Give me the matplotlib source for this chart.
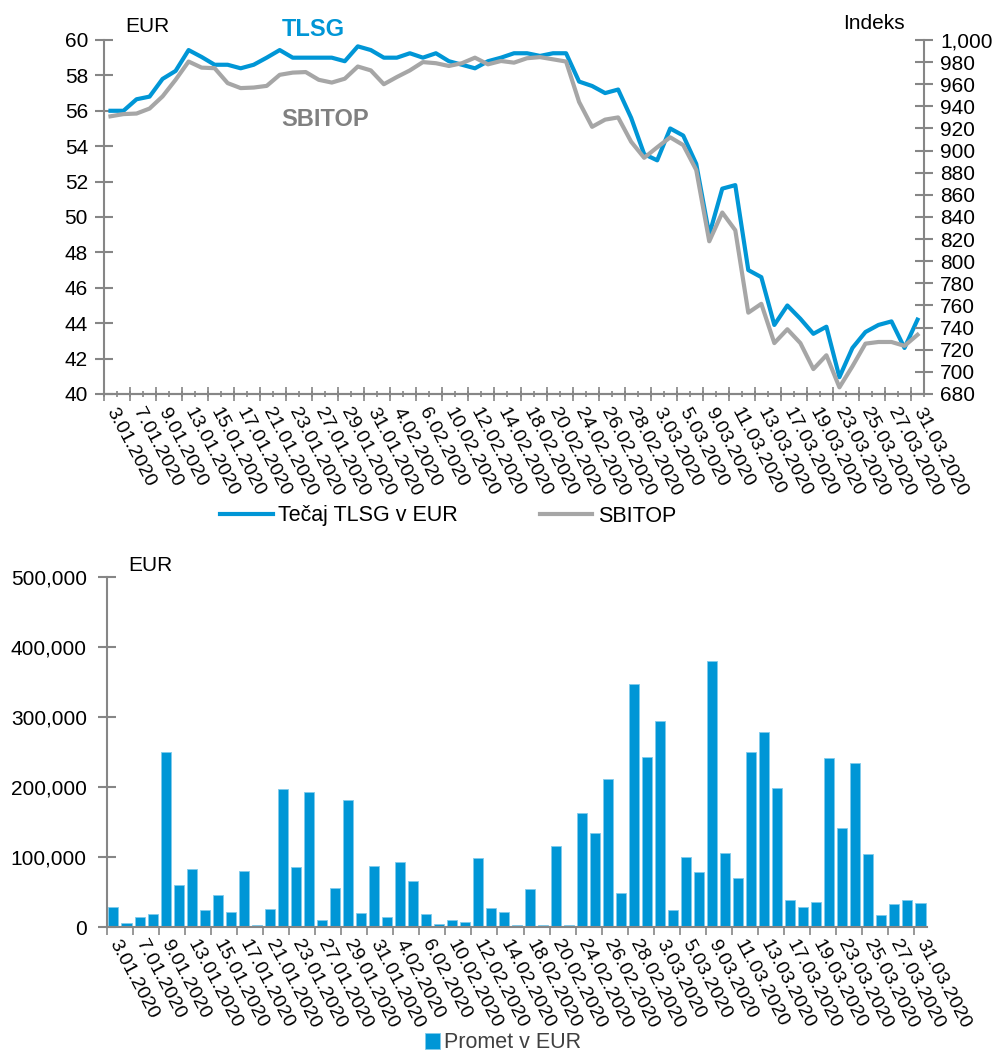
import numpy as np
import matplotlib
matplotlib.use("Agg")
import matplotlib.pyplot as plt
from matplotlib.ticker import FuncFormatter

plt.rcParams['font.family'] = ['Liberation Sans', 'DejaVu Sans']

# trading days, Jan-Mar 2020
dates = ["3.01.2020", "6.01.2020", "7.01.2020", "8.01.2020", "9.01.2020", "10.01.2020",
         "13.01.2020", "14.01.2020", "15.01.2020", "16.01.2020", "17.01.2020",
         "20.01.2020", "21.01.2020", "22.01.2020", "23.01.2020", "24.01.2020",
         "27.01.2020", "28.01.2020", "29.01.2020", "30.01.2020", "31.01.2020",
         "3.02.2020", "4.02.2020", "5.02.2020", "6.02.2020", "7.02.2020",
         "10.02.2020", "11.02.2020", "12.02.2020", "13.02.2020", "14.02.2020",
         "17.02.2020", "18.02.2020", "19.02.2020", "20.02.2020", "21.02.2020",
         "24.02.2020", "25.02.2020", "26.02.2020", "27.02.2020", "28.02.2020",
         "2.03.2020", "3.03.2020", "4.03.2020", "5.03.2020", "6.03.2020",
         "9.03.2020", "10.03.2020", "11.03.2020", "12.03.2020", "13.03.2020",
         "16.03.2020", "17.03.2020", "18.03.2020", "19.03.2020", "20.03.2020",
         "23.03.2020", "24.03.2020", "25.03.2020", "26.03.2020", "27.03.2020",
         "30.03.2020", "31.03.2020"]

tlsg = [56.0, 56.0, 56.65, 56.8, 57.8, 58.25, 59.43, 59.04, 58.6, 58.6,
        58.4, 58.6, 59.0, 59.43, 59.0, 59.0, 59.0, 59.0, 58.8, 59.64,
        59.43, 59.0, 59.0, 59.25, 59.0, 59.25, 58.8, 58.6, 58.4, 58.8,
        59.0, 59.25, 59.25, 59.1, 59.25, 59.25, 57.65, 57.4, 57.0, 57.2,
        55.6, 53.55, 53.2, 55.0, 54.6, 53.0, 49.0, 51.6, 51.8, 47.0,
        46.6, 43.9, 45.0, 44.25, 43.4, 43.8, 40.95, 42.6, 43.5, 43.9,
        44.1, 42.6, 44.2]

sbitop = [931, 933, 933.5, 938, 949, 964, 980.5, 975, 974.5, 961,
          956.5, 957, 958.5, 968.5, 970.5, 971, 964, 961.5, 965, 976,
          972.5, 960, 966.5, 972.5, 980, 979, 976.5, 979, 984, 978,
          981, 979.5, 983.5, 984.5, 982.5, 980.5, 944, 921.5, 928, 930,
          908, 893.5, 903, 912, 905, 882.5, 818, 844, 828, 753.5,
          761.5, 726, 738.5, 726, 702.5, 715, 686, 705, 725.5, 727,
          727, 723.5, 733.5]

promet = [29000, 6200, 13900, 18100, 250000, 60500, 83200, 24300, 45200, 21400,
          80000, 2400, 25200, 197600, 85200, 192800, 9500, 56200, 181000, 20500,
          87600, 14800, 92400, 66200, 18100, 4800, 10000, 7100, 98000, 27100,
          21900, 3400, 54300, 3400, 115700, 3400, 163500, 134300, 212000, 49000,
          347600, 242600, 295000, 24800, 100000, 78200, 380000, 105900, 70000, 250500,
          279300, 198000, 39000, 29000, 35600, 241600, 141600, 234200, 104000, 16600,
          32400, 38600, 34700]

blue = "#0096D6"
grey = "#A6A6A6"
axc = "#868686"
x = np.arange(len(dates))
labels = dates[::2]

fig = plt.figure(figsize=(9.97, 10.52), dpi=100)


def style_xlabels(ax):
    for t in ax.get_xticklabels():
        t.set_rotation(-62)
        t.set_ha("left")
        t.set_va("center")
        t.set_rotation_mode("anchor")


# --- top: price and index ---
ax1 = fig.add_axes([0.1043, 0.6255, 0.8225, 0.3365])
ax1.plot(x, tlsg, color=blue, lw=3, label="Tečaj TLSG v EUR")
ax2 = ax1.twinx()
ax2.plot(x, sbitop, color=grey, lw=3, label="SBITOP")
ax1.set_xlim(-0.5, len(dates) - 0.5)
ax1.set_ylim(40, 60)
ax2.set_ylim(680, 1000)
ax1.set_yticks(np.arange(40, 61, 2))
ax2.set_yticks(np.arange(680, 1001, 20))
ax2.yaxis.set_major_formatter(FuncFormatter(lambda v, p: f"{v:,.0f}"))

ax1.set_xticks(x[::2], labels)
ax1.set_xticks(np.arange(-0.5, len(dates), 1), minor=True)
ax1.tick_params(axis="x", which="major", length=0, labelsize=14, pad=10.5)
ax1.tick_params(axis="x", which="minor", length=5, direction="inout", color=axc, width=1.2)
ax1.tick_params(axis="y", direction="inout", length=13, width=1.5, color=axc, labelsize=15, pad=5)
ax2.tick_params(axis="y", direction="inout", length=13, width=1.5, color=axc, labelsize=15, pad=5)
style_xlabels(ax1)

sec = ax1.secondary_xaxis("bottom")
sec.set_xticks(np.arange(-0.5, len(dates), 2))
sec.tick_params(length=10, direction="inout", width=1.2, color=axc, labelbottom=False)
sec.spines["bottom"].set_color(axc)
sec.spines["bottom"].set_linewidth(1.5)

for s in ["top", "right"]:
    ax1.spines[s].set_visible(False)
for s in ["top", "left", "bottom"]:
    ax2.spines[s].set_visible(False)
ax1.spines["left"].set_color(axc)
ax1.spines["left"].set_linewidth(1.5)
ax1.spines["bottom"].set_color(axc)
ax1.spines["bottom"].set_linewidth(1.5)
ax2.spines["right"].set_color(axc)
ax2.spines["right"].set_linewidth(1.5)

fig.text(125 / 997, 1 - 32 / 1052, "EUR", fontsize=15, ha="left", va="baseline")
fig.text(843 / 997, 1 - 29 / 1052, "Indeks", fontsize=15, ha="left", va="baseline")
fig.text(282 / 997, 1 - 36 / 1052, "TLSG", fontsize=17, fontweight="bold", color=blue,
         ha="left", va="baseline")
fig.text(281 / 997, 1 - 126 / 1052, "SBITOP", fontsize=17, fontweight="bold", color="#808080",
         ha="left", va="baseline")

h1, l1 = ax1.get_legend_handles_labels()
h2, l2 = ax2.get_legend_handles_labels()
fig.legend(h1 + h2, l1 + l2, loc="center left", bbox_to_anchor=(220 / 997, 1 - 516 / 1052),
           ncol=2, frameon=False, fontsize=15.5, handlelength=2.45, handletextpad=0.25,
           columnspacing=3.8, borderpad=0, borderaxespad=0)

# --- bottom: turnover ---
ax3 = fig.add_axes([0.1073, 0.1188, 0.8225, 0.3327])
ax3.bar(x, promet, width=0.77, color=blue, edgecolor="#7FCBEC", linewidth=0.6,
        label="Promet v EUR")
ax3.set_xlim(-0.5, len(dates) - 0.5)
ax3.set_ylim(0, 500000)
ax3.set_yticks(np.arange(0, 500001, 100000))
ax3.yaxis.set_major_formatter(FuncFormatter(lambda v, p: f"{v:,.0f}"))
ax3.set_xticks(x[::2], labels)
ax3.set_xticks(np.arange(-0.5, len(dates), 2), minor=True)
ax3.tick_params(axis="x", which="major", length=0, labelsize=14, pad=10)
ax3.tick_params(axis="x", which="minor", length=6, direction="out", color=axc, width=1.2)
ax3.tick_params(axis="y", direction="inout", length=13, width=1.5, color=axc, labelsize=15, pad=8)
style_xlabels(ax3)
for s in ["top", "right"]:
    ax3.spines[s].set_visible(False)
for s in ["left", "bottom"]:
    ax3.spines[s].set_color(axc)
    ax3.spines[s].set_linewidth(1.5)

fig.text(128 / 997, 1 - 571 / 1052, "EUR", fontsize=15, ha="left", va="baseline")
fig.legend(loc="center left", bbox_to_anchor=(425 / 997, 1 - 1043 / 1052),
           handles=ax3.get_legend_handles_labels()[0], labels=["Promet v EUR"],
           frameon=False, fontsize=15.5, handlelength=0.7, handleheight=0.7,
           handletextpad=0.2, borderpad=0, borderaxespad=0, labelcolor="#404040")

fig.savefig("out.png", dpi=100)
